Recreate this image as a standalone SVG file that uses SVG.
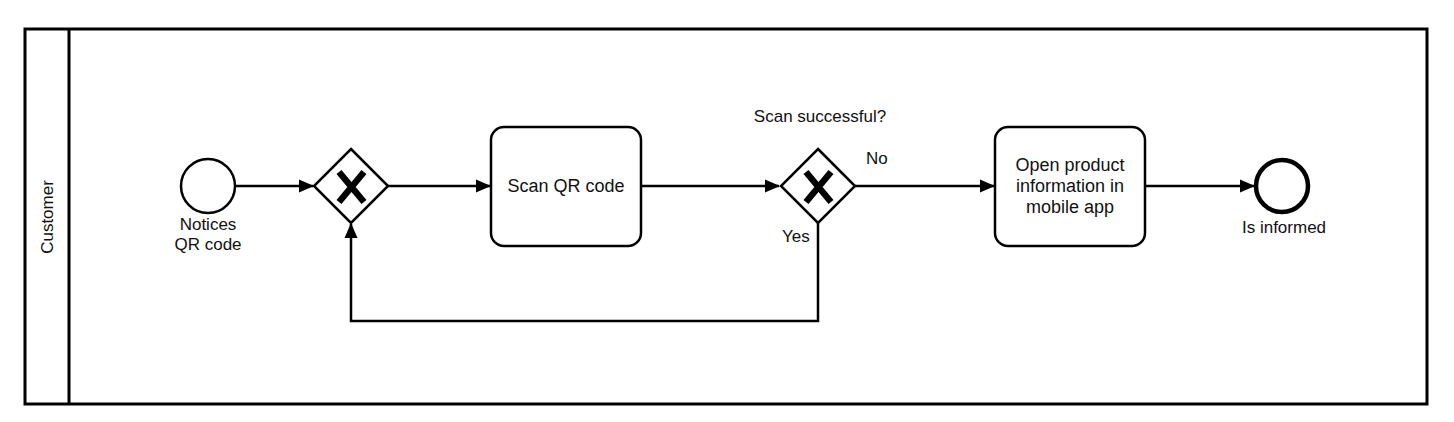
<svg xmlns="http://www.w3.org/2000/svg" width="1454" height="422" viewBox="0 0 1454 422">
<style>
text{font-family:"Liberation Sans",Arial,sans-serif;font-size:17px;fill:#111;}
.t{font-size:18px;}
.c{text-anchor:middle;}
.shape{fill:#fff;stroke:#000;stroke-width:2.5;}
.flow{fill:none;stroke:#000;stroke-width:2.5;}
.x{fill:none;stroke:#000;stroke-width:6.5;}
</style>
<defs>
<marker id="arr" markerWidth="15" markerHeight="14" refX="14" refY="7" orient="auto" markerUnits="userSpaceOnUse">
<path d="M0,0.5 L15,7 L0,13.5 Z" fill="#000"/>
</marker>
</defs>
<rect width="1454" height="422" fill="#fff"/>
<g id="pool">
<rect x="25" y="29" width="1402" height="375" fill="#fff" stroke="#000" stroke-width="3"/>
<line x1="69" y1="29" x2="69" y2="404" stroke="#000" stroke-width="3"/>
<text class="c" transform="translate(53,217) rotate(-90)">Customer</text>
</g>
<g id="connectors">
<path class="flow" d="M235,186 L313,186" marker-end="url(#arr)"/>
<path class="flow" d="M388,186 L490,186" marker-end="url(#arr)"/>
<path class="flow" d="M641,186 L779,186" marker-end="url(#arr)"/>
<path class="flow" d="M855,186 L994,186" marker-end="url(#arr)"/>
<path class="flow" d="M1145,186 L1254,186" marker-end="url(#arr)"/>
<path class="flow" d="M818,223 L818,321 L351,321 L351,224" marker-end="url(#arr)"/>
<text x="866" y="164">No</text>
<text x="782" y="242">Yes</text>
</g>
<g id="start">
<circle class="shape" cx="208" cy="186" r="27"/>
<text class="c" x="208" y="230">Notices</text>
<text class="c" x="208" y="250">QR code</text>
</g>
<g id="gateway1">
<path class="shape" d="M351,149 L388,186 L351,223 L314,186 Z"/>
<path class="x" d="M339,172 L364,202 M364,172 L339,202"/>
</g>
<g id="task1">
<rect class="shape" x="491" y="127" width="150" height="119" rx="13"/>
<text class="c t" x="566" y="192">Scan QR code</text>
</g>
<g id="gateway2">
<path class="shape" d="M818,149 L855,186 L818,223 L781,186 Z"/>
<path class="x" d="M806,172 L831,202 M831,172 L806,202"/>
<text class="c" x="820" y="122">Scan successful?</text>
</g>
<g id="task2">
<rect class="shape" x="995" y="127" width="150" height="119" rx="13"/>
<text class="c t" x="1070" y="171">Open product</text>
<text class="c t" x="1070" y="192">information in</text>
<text class="c t" x="1070" y="213">mobile app</text>
</g>
<g id="end">
<circle cx="1282" cy="186" r="26" fill="#fff" stroke="#000" stroke-width="4.5"/>
<text class="c" x="1284" y="233">Is informed</text>
</g>
</svg>
